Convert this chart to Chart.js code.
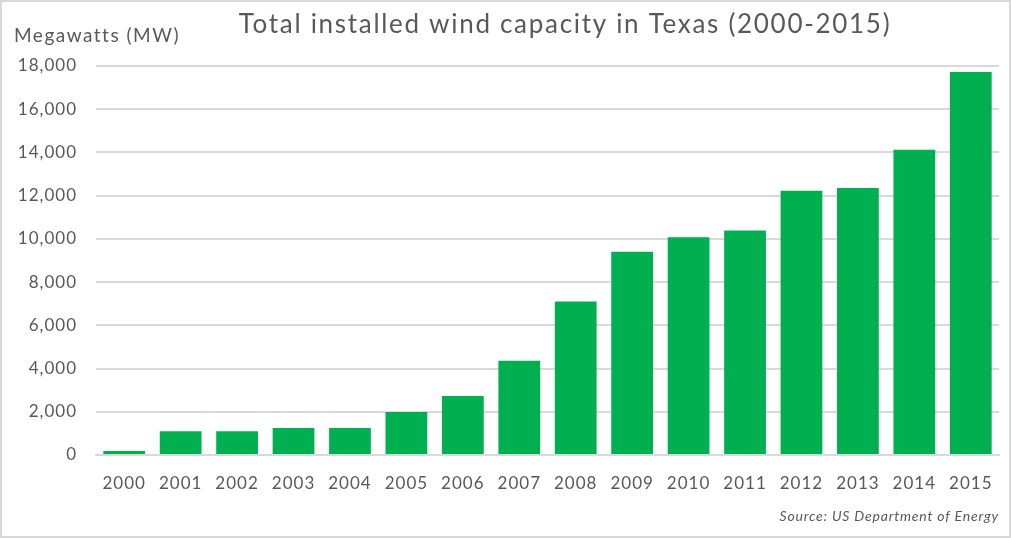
<!DOCTYPE html>
<html lang="en">
<head>
<meta charset="UTF-8">
<title>Texas wind capacity</title>
<script src="https://cdn.jsdelivr.net/npm/chart.js"></script>
<style>
  body { margin: 0; background: #fff; }
  #wrap { position: relative; width: 1011px; height: 538px; }
  #frame { position: absolute; left: 0; top: 0; width: 1011px; height: 538px; box-sizing: border-box; border: 2px solid #d9d9d9; pointer-events: none; }
</style>
</head>
<body>
<div id="wrap">
  <canvas id="windChart" width="1011" height="538"></canvas>
  <div id="frame"></div>
</div>
<script>
// data
const years = ['2000', '2001', '2002', '2003', '2004', '2005', '2006', '2007',
               '2008', '2009', '2010', '2011', '2012', '2013', '2014', '2015'];
const capacityMW = [190, 1100, 1100, 1250, 1250, 1990, 2730, 4360,
                    7100, 9410, 10080, 10390, 12230, 12360, 14120, 17720];
const yTicks = [0, 2000, 4000, 6000, 8000, 10000, 12000, 14000, 16000, 18000];

const titleText = 'Total installed wind capacity in Texas (2000-2015)';
const unitText = 'Megawatts (MW)';
const sourceText = 'Source: US Department of Energy';

const FONT = 'Lato, "Open Sans", sans-serif';
const GREY = '#595959';

// Lato is narrower than the original font, open the spacing a little
const spacing = {
    id: 'spacing',
    beforeDraw(chart) { chart.ctx.letterSpacing = '1px'; }
};

// title, unit label and source note drawn on the canvas
const extraText = {
    id: 'extraText',
    afterDraw(chart) {
        const c = chart.ctx;
        c.save();
        c.fillStyle = GREY;
        c.textBaseline = 'alphabetic';
        c.font = '26px ' + FONT;
        c.letterSpacing = '1.7px';
        c.textAlign = 'center';
        c.fillText(titleText, 565, 33);
        c.font = '19px ' + FONT;
        c.letterSpacing = '1.5px';
        c.textAlign = 'left';
        c.fillText(unitText, 14, 42);
        c.font = 'italic 14px ' + FONT;
        c.letterSpacing = '0.8px';
        c.textAlign = 'right';
        c.fillText(sourceText, 999, 521);
        c.restore();
    }
};

const ctx = document.getElementById('windChart').getContext('2d');
const chart = new Chart(ctx, {
    type: 'bar',
    data: {
        labels: years,
        datasets: [{
            label: 'Installed capacity (MW)',
            data: capacityMW,
            backgroundColor: '#00b050',
            borderWidth: 0,
            barPercentage: 0.74,
            categoryPercentage: 1.0
        }]
    },
    options: {
        responsive: false,
        animation: false,
        layout: { padding: { left: 0, right: 12, top: 66, bottom: 0 } },
        plugins: {
            legend: { display: false },
            title: { display: false },
            tooltip: { enabled: false }
        },
        scales: {
            x: {
                grid: { display: false, drawTicks: false },
                border: { display: true, color: '#d9d9d9', width: 2 },
                ticks: { color: GREY, font: { family: FONT, size: 17 }, padding: 18, maxRotation: 0 },
                afterFit(scale) { scale.height = 83; }
            },
            y: {
                min: 0,
                max: 18000,
                afterBuildTicks(scale) { scale.ticks = yTicks.map(v => ({ value: v })); },
                grid: { color: '#d9d9d9', lineWidth: 2, drawTicks: false },
                border: { display: false },
                ticks: {
                    color: GREY,
                    font: { family: FONT, size: 17 },
                    padding: 19,
                    callback: v => v.toLocaleString('en-US')
                },
                afterFit(scale) { scale.width = 96; }
            }
        }
    },
    plugins: [spacing, extraText]
});
</script>
</body>
</html>
